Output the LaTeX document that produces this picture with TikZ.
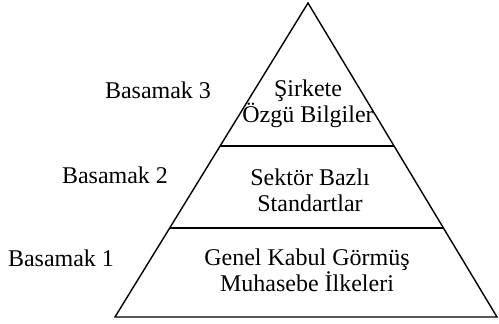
\documentclass[tikz,border=0pt]{standalone}
\usepackage{fontspec}
\setmainfont{Liberation Serif}
\usetikzlibrary{calc}

\begin{document}
\begin{tikzpicture}[x=0.5pt, y=-0.5pt,
    edge/.style={line width=0.7pt, black},
    tier/.style={align=center, inner sep=0pt,
      font=\fontsize{12}{13}\selectfont},
    lvl/.style={inner sep=0pt, font=\fontsize{12}{13}\selectfont},
  ]
  \useasboundingbox (0,0) rectangle (499,324);

  % Pyramid corners
  \coordinate (apex) at (308,3);
  \coordinate (baseL) at (115,317);
  \coordinate (baseR) at (497,317);

  % Divider ends
  \coordinate (top-l) at ($(apex)!0.455!(baseL)$);
  \coordinate (top-r) at ($(apex)!0.455!(baseR)$);
  \coordinate (mid-l) at ($(apex)!0.717!(baseL)$);
  \coordinate (mid-r) at ($(apex)!0.717!(baseR)$);

  % Outline and dividers
  \draw[edge] (apex) -- (baseR) -- (baseL) -- cycle;
  \draw[edge] (top-l) -- (top-r);
  \draw[edge] (mid-l) -- (mid-r);

  % Tier contents
  \node[tier] (t3) at (308,104) {Şirkete\\Özgü Bilgiler};
  \node[tier] (t2) at (310,190) {Sektör Bazlı\\Standartlar};
  \node[tier] (t1) at (307,270) {Genel Kabul Görmüş\\Muhasebe İlkeleri};

  % Level labels
  \node[lvl] (b3) at (158,90) {Basamak 3};
  \node[lvl] (b2) at (115,175) {Basamak 2};
  \node[lvl] (b1) at (61,258) {Basamak 1};
\end{tikzpicture}
\end{document}
